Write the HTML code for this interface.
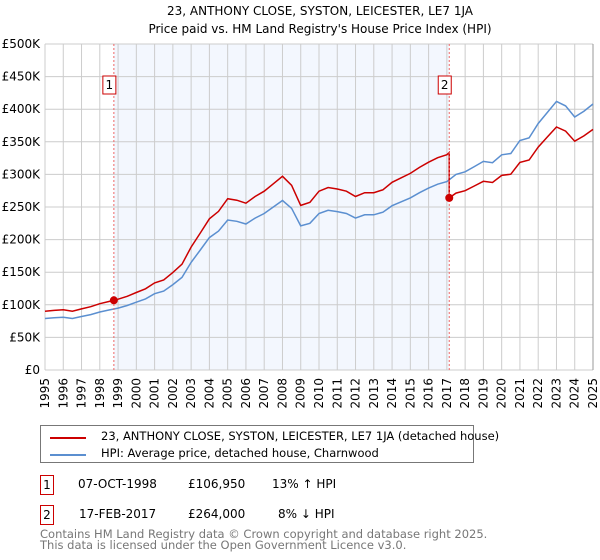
<!DOCTYPE html>
<html><head><meta charset="utf-8"><style>
body{margin:0;background:#fff;font-family:"DejaVu Sans","Liberation Sans",sans-serif;}
#wrap{position:relative;width:600px;height:560px;overflow:hidden}
.t{position:absolute;font-size:12px;color:#000;white-space:nowrap}
.mk{position:absolute;width:12px;height:18px;border:1px solid #c00;font-size:12px;text-align:center;line-height:18px;background:#fff}
</style></head><body><div id="wrap">
<svg id="chart" width="600" height="420" style="position:absolute;left:0;top:0">
<text x="320" y="15" text-anchor="middle" font-size="12" font-family="DejaVu Sans, sans-serif">23, ANTHONY CLOSE, SYSTON, LEICESTER, LE7 1JA</text>
<text x="320" y="33" text-anchor="middle" font-size="12" font-family="DejaVu Sans, sans-serif">Price paid vs. HM Land Registry's House Price Index (HPI)</text>
</svg>
<div style="position:absolute;left:40px;top:425px;width:432px;height:36px;border:1px solid #777">
<div style="position:absolute;left:9px;top:11px;width:36px;height:2px;background:#c00"></div>
<div class="t" style="left:60px;top:3px;font-size:11.5px">23, ANTHONY CLOSE, SYSTON, LEICESTER, LE7 1JA (detached house)</div>
<div style="position:absolute;left:9px;top:28px;width:36px;height:2px;background:#5b8fd0"></div>
<div class="t" style="left:60px;top:20px;font-size:11.5px">HPI: Average price, detached house, Charnwood</div>
</div>
<div class="mk" style="left:40px;top:475px">1</div>
<div class="t" style="left:78px;top:477px">07-OCT-1998</div>
<div class="t" style="left:188px;top:477px">£106,950</div>
<div class="t" style="left:272px;top:477px">13% ↑ HPI</div>
<div class="mk" style="left:40px;top:505px">2</div>
<div class="t" style="left:79px;top:507px">17-FEB-2017</div>
<div class="t" style="left:188px;top:507px">£264,000</div>
<div class="t" style="left:278px;top:507px">8% ↓ HPI</div>
<div class="t" style="left:40px;top:529px;color:#777;font-size:11.5px;line-height:11px">Contains HM Land Registry data © Crown copyright and database right 2025.<br>This data is licensed under the Open Government Licence v3.0.</div>
</div>
<script>
const years=[1995,1995.5,1996,1996.5,1997,1997.5,1998,1998.5,1999,1999.5,2000,2000.5,2001,2001.5,2002,2002.5,2003,2003.5,2004,2004.5,2005,2005.5,2006,2006.5,2007,2007.5,2008,2008.5,2009,2009.5,2010,2010.5,2011,2011.5,2012,2012.5,2013,2013.5,2014,2014.5,2015,2015.5,2016,2016.5,2017,2017.5,2018,2018.5,2019,2019.5,2020,2020.5,2021,2021.5,2022,2022.5,2023,2023.5,2024,2024.5,2025];
const hpi=[79,80,81,79,82,85,89,92,95,99,104,109,117,121,131,142,165,184,203,213,230,228,224,233,240,250,260,248,221,225,240,245,243,240,233,238,238,242,252,258,264,272,279,285,289,300,304,312,320,318,330,332,352,356,378,395,412,405,388,397,408];
const saleYears=[1998.77,2017.13];
const salePrices=[106.95,264.0];
const yTicks=[0,50,100,150,200,250,300,350,400,450,500];
const yLabels=["£0","£50K","£100K","£150K","£200K","£250K","£300K","£350K","£400K","£450K","£500K"];
const xTicks=[1995,1996,1997,1998,1999,2000,2001,2002,2003,2004,2005,2006,2007,2008,2009,2010,2011,2012,2013,2014,2015,2016,2017,2018,2019,2020,2021,2022,2023,2024,2025];
const L=45,R=593,T=44,B=370;
const X=y=>L+(y-1995)/30*(R-L);
const Y=v=>B-v/500*(B-T);
const svg=document.getElementById('chart');
const NS='http://www.w3.org/2000/svg';
function mk(tag,attrs){const e=document.createElementNS(NS,tag);for(const k in attrs)e.setAttribute(k,attrs[k]);svg.appendChild(e);return e;}
function hpiAt(t){for(let i=0;i<years.length-1;i++){if(t<=years[i+1]){const f=(t-years[i])/(years[i+1]-years[i]);return hpi[i]+f*(hpi[i+1]-hpi[i]);}}return hpi[hpi.length-1];}
let r=mk('rect',{x:X(saleYears[0]),y:T,width:X(saleYears[1])-X(saleYears[0]),height:B-T,fill:'#eef3fd',opacity:0.7});


xTicks.forEach(t=>{const l=mk('line',{x1:X(t),x2:X(t),y1:T,y2:B,stroke:'#ccc'});


const tx=mk('text',{x:0,y:0,'font-size':12,'font-family':'DejaVu Sans, sans-serif',transform:`translate(${X(t)+4},${B+8}) rotate(-90)`,'text-anchor':'end'});tx.textContent=t;

});
yTicks.forEach((v,i)=>{const l=mk('line',{x1:L,x2:R,y1:Y(v),y2:Y(v),stroke:'#ccc'});


const tx=mk('text',{x:40,y:Y(v)+4,'font-size':12,'font-family':'DejaVu Sans, sans-serif','text-anchor':'end'});tx.textContent=yLabels[i];

});
const ax=mk('line',{x1:R,x2:R,y1:T,y2:B,stroke:'#999'});


let d='';years.forEach((y,i)=>{d+=(i?'L':'M')+X(y).toFixed(1)+','+Y(hpi[i]).toFixed(1);});
const hl=mk('path',{d,fill:'none',stroke:'#5b8fd0','stroke-width':1.5});


const r1=salePrices[0]/hpiAt(saleYears[0]), r2=salePrices[1]/hpiAt(saleYears[1]);
let pts=[];
years.forEach((y,i)=>{if(y<saleYears[1])pts.push([y,hpi[i]*r1]);});
pts.push([saleYears[1],hpiAt(saleYears[1])*r1]);pts.push([saleYears[1],salePrices[1]]);
years.forEach((y,i)=>{if(y>saleYears[1])pts.push([y,hpi[i]*r2]);});
let d2='';pts.forEach((p,i)=>{d2+=(i?'L':'M')+X(p[0]).toFixed(1)+','+Y(p[1]).toFixed(1);});
const pl=mk('path',{d:d2,fill:'none',stroke:'#c00','stroke-width':1.5});


saleYears.forEach((s,i)=>{
const vl=mk('line',{x1:X(s),x2:X(s),y1:T,y2:B,stroke:'#e66','stroke-dasharray':'2,2'});


const c=mk('circle',{cx:X(s),cy:Y(salePrices[i]),r:4,fill:'#c00'});


const b=mk('rect',{x:X(s)-11,y:76,width:13,height:18,fill:'#fff',stroke:'#c00'});


const bt=mk('text',{x:X(s)-4.5,y:89,'font-size':12,'text-anchor':'middle','font-family':'DejaVu Sans, sans-serif'});bt.textContent=i+1;

});
</script>
</body></html>
